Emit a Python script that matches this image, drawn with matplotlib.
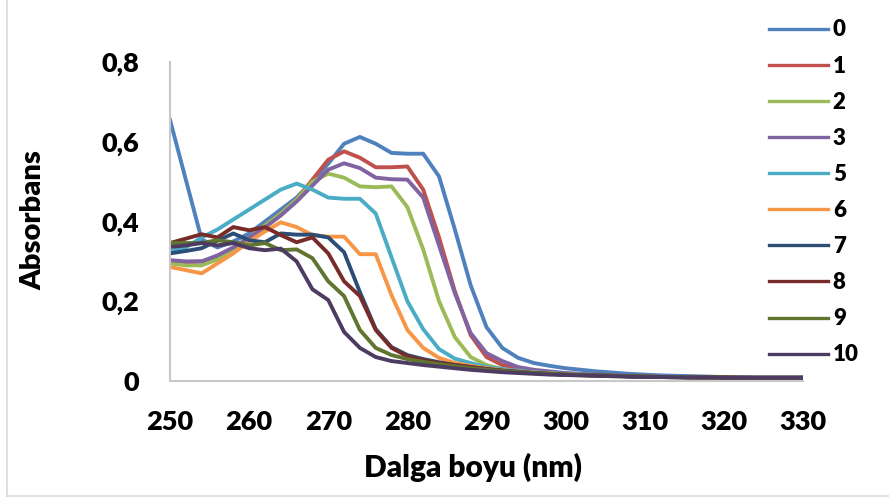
import numpy as np
import matplotlib
matplotlib.use("Agg")
import matplotlib.pyplot as plt
from matplotlib.lines import Line2D

plt.rcParams['font.family'] = ['Lato', 'DejaVu Sans']

wavelength = np.arange(250, 331, 2)

labels = ["0", "1", "2", "3", "5", "6", "7", "8", "9", "10"]
colors = ["#4F81BD", "#C0504D", "#9BBB59", "#8064A2", "#4BACC6",
          "#F79646", "#2C4D75", "#772C2A", "#5F7530", "#4D3B62"]

s0 = [0.655,0.505,0.355,0.335,0.35,0.37,0.40,0.43,0.46,0.50,0.545,0.595,0.612,0.595,0.572,0.570,0.570,0.513,0.38,0.24,0.135,0.083,0.058,0.045,0.038,0.032,0.028,0.024,0.021,0.018,0.016,0.014,0.013,0.012,0.011,0.010,0.010,0.009,0.009,0.009,0.009]
s1 = [0.30,0.298,0.30,0.31,0.33,0.36,0.39,0.42,0.455,0.505,0.555,0.576,0.56,0.536,0.536,0.538,0.48,0.36,0.225,0.115,0.06,0.04,0.03,0.025,0.021,0.018,0.016,0.014,0.013,0.012,0.011,0.010,0.010,0.009,0.009,0.009,0.008,0.008,0.008,0.008,0.008]
s2 = [0.295,0.29,0.29,0.305,0.33,0.36,0.39,0.42,0.455,0.50,0.52,0.51,0.488,0.486,0.488,0.436,0.33,0.20,0.11,0.06,0.04,0.03,0.024,0.02,0.018,0.016,0.014,0.013,0.012,0.011,0.010,0.010,0.009,0.009,0.008,0.008,0.008,0.007,0.007,0.007,0.007]
s3 = [0.303,0.30,0.30,0.315,0.335,0.36,0.385,0.415,0.45,0.49,0.53,0.546,0.534,0.51,0.506,0.505,0.46,0.34,0.22,0.12,0.07,0.05,0.035,0.028,0.024,0.02,0.018,0.016,0.014,0.013,0.012,0.011,0.010,0.010,0.009,0.009,0.009,0.008,0.008,0.008,0.008]
s5 = [0.325,0.335,0.36,0.38,0.405,0.43,0.455,0.48,0.495,0.48,0.46,0.457,0.457,0.42,0.31,0.20,0.13,0.08,0.056,0.045,0.035,0.03,0.026,0.022,0.02,0.018,0.016,0.014,0.013,0.012,0.011,0.010,0.010,0.009,0.009,0.008,0.008,0.008,0.008,0.008,0.008]
s6 = [0.286,0.278,0.27,0.295,0.32,0.35,0.375,0.398,0.386,0.366,0.362,0.362,0.318,0.318,0.215,0.128,0.083,0.058,0.045,0.038,0.032,0.027,0.024,0.021,0.019,0.017,0.015,0.014,0.013,0.012,0.011,0.010,0.010,0.009,0.009,0.009,0.008,0.008,0.008,0.008,0.008]
s7 = [0.32,0.326,0.333,0.352,0.37,0.353,0.348,0.37,0.367,0.367,0.36,0.323,0.223,0.13,0.085,0.065,0.055,0.047,0.04,0.035,0.03,0.026,0.023,0.02,0.018,0.016,0.015,0.014,0.013,0.012,0.011,0.010,0.010,0.009,0.009,0.009,0.008,0.008,0.008,0.008,0.008]
s8 = [0.346,0.357,0.368,0.36,0.386,0.378,0.386,0.366,0.348,0.36,0.32,0.25,0.213,0.128,0.083,0.062,0.052,0.045,0.04,0.035,0.03,0.026,0.023,0.02,0.018,0.016,0.015,0.014,0.013,0.012,0.011,0.010,0.010,0.009,0.009,0.009,0.008,0.008,0.008,0.008,0.008]
s9 = [0.346,0.346,0.346,0.353,0.348,0.34,0.346,0.328,0.33,0.308,0.25,0.213,0.128,0.083,0.065,0.055,0.048,0.042,0.037,0.032,0.028,0.025,0.022,0.02,0.018,0.016,0.015,0.014,0.013,0.012,0.011,0.010,0.010,0.009,0.009,0.009,0.008,0.008,0.008,0.008,0.008]
s10 = [0.336,0.34,0.346,0.34,0.346,0.333,0.328,0.332,0.30,0.23,0.203,0.123,0.083,0.06,0.05,0.045,0.04,0.036,0.032,0.028,0.025,0.022,0.02,0.018,0.016,0.015,0.014,0.013,0.012,0.011,0.010,0.010,0.009,0.009,0.009,0.008,0.008,0.008,0.008,0.008,0.008]

series = [s0, s1, s2, s3, s5, s6, s7, s8, s9, s10]

xticks = [250, 260, 270, 280, 290, 300, 310, 320, 330]
yticks = [0, 0.2, 0.4, 0.6, 0.8]
ytick_labels = ["0", "0,2", "0,4", "0,6", "0,8"]

W, H = 889, 497
fig = plt.figure(figsize=(W / 100, H / 100), dpi=100)
ax = fig.add_axes([170 / W, 1 - 381 / H, (803 - 170) / W, (381 - 62) / H])

for s, c, lab in zip(series, colors, labels):
    ax.plot(wavelength, s, color=c, lw=2.8, label=lab, solid_joinstyle='round')

FW = 'heavy'
ax.set_xlim(250, 330)
ax.set_ylim(0, 0.8)
ax.set_xticks(xticks)
ax.set_xticklabels([str(t) for t in xticks], fontsize=19.5, fontweight=FW)
ax.set_yticks(yticks)
ax.set_yticklabels(ytick_labels, fontsize=19.5, fontweight=FW)
ax.tick_params(axis='y', length=0, pad=22)
ax.tick_params(axis='x', length=0, pad=21)
for sp in ['top', 'right']:
    ax.spines[sp].set_visible(False)
for sp in ['left', 'bottom']:
    ax.spines[sp].set_color('#c8c8c8')
    ax.spines[sp].set_linewidth(1.5)

fig.text(473 / W, 1 - 467 / H, "Dalga boyu (nm)", fontsize=21.5, fontweight=FW,
         ha='center', va='center')
fig.text(33 / W, 1 - 220 / H, "Absorbans", fontsize=21, fontweight=FW,
         ha='center', va='center', rotation=90)

handles = [Line2D([0], [0], color=c, lw=2.4) for c in colors]
leg = fig.legend(handles, labels, loc='upper left',
                 bbox_to_anchor=(765 / W, 1 - 15 / H),
                 frameon=False, prop={'size': 16, 'weight': FW},
                 handlelength=2.65, handletextpad=0.2, labelspacing=0.68,
                 borderaxespad=0, borderpad=0.2)

# outer chart-area border
fig.add_artist(Line2D([7 / W, 7 / W], [0, 1], transform=fig.transFigure,
                      color='#d9d9d9', lw=1.2))
fig.add_artist(Line2D([7 / W, 1], [1.5 / H, 1.5 / H], transform=fig.transFigure,
                      color='#d9d9d9', lw=1.2))

fig.savefig("out.png", dpi=100)
